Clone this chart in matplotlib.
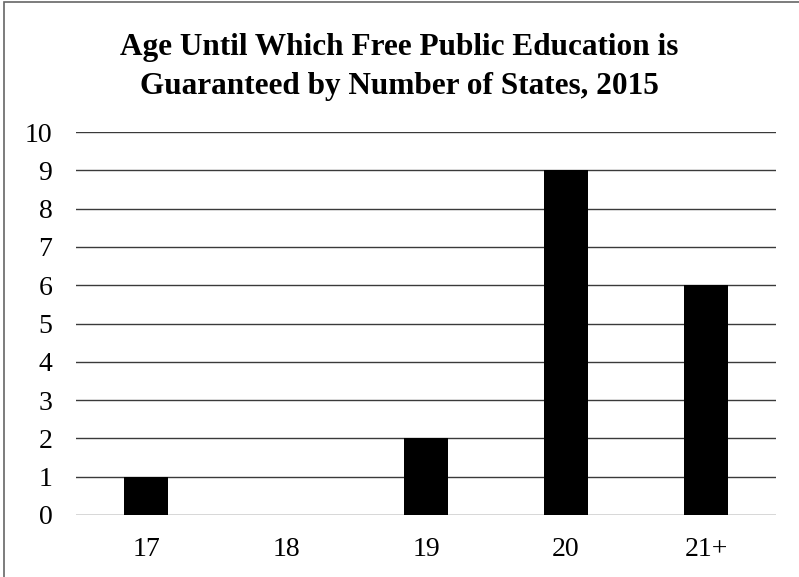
import matplotlib
matplotlib.use("Agg")
import matplotlib.pyplot as plt
from matplotlib.patches import Rectangle

ages = ["17", "18", "19", "20", "21+"]
states = [1, 0, 2, 9, 6]
yticks = list(range(0, 11))

plt.rcParams['font.family'] = ['Liberation Serif', 'DejaVu Serif']

fig = plt.figure(figsize=(7.99, 5.77), dpi=100)
ax = fig.add_axes([76 / 799, 1 - 515 / 577, 700 / 799, 383 / 577])

ax.bar(range(len(ages)), states, width=0.315, color='black', zorder=3)
ax.set_xlim(-0.5, len(ages) - 0.5)
ax.set_ylim(0, 10)
ax.set_yticks(yticks)
ax.set_xticks(range(len(ages)))
ax.set_xticklabels(ages)
ax.tick_params(axis='both', length=0, labelsize=20, colors='black')
ax.tick_params(axis='y', pad=17)
ax.tick_params(axis='x', pad=16)
ax.grid(axis='y', color='#3a3a3a', linewidth=1.0, zorder=0)
for s in ax.spines.values():
    s.set_visible(False)

fig.text(0.5, 1 - 67 / 577, "Age Until Which Free Public Education is\nGuaranteed by Number of States, 2015",
         ha='center', va='center', fontsize=22.5, fontweight='bold', linespacing=1.42)

# outer frame of the scanned chart
fig.patches.append(Rectangle((4 / 799, -0.1), 1.2, 1.1 - 2 / 577,
                             transform=fig.transFigure, fill=False,
                             edgecolor='#666666', linewidth=1.2))

fig.savefig("out.png", dpi=100)
